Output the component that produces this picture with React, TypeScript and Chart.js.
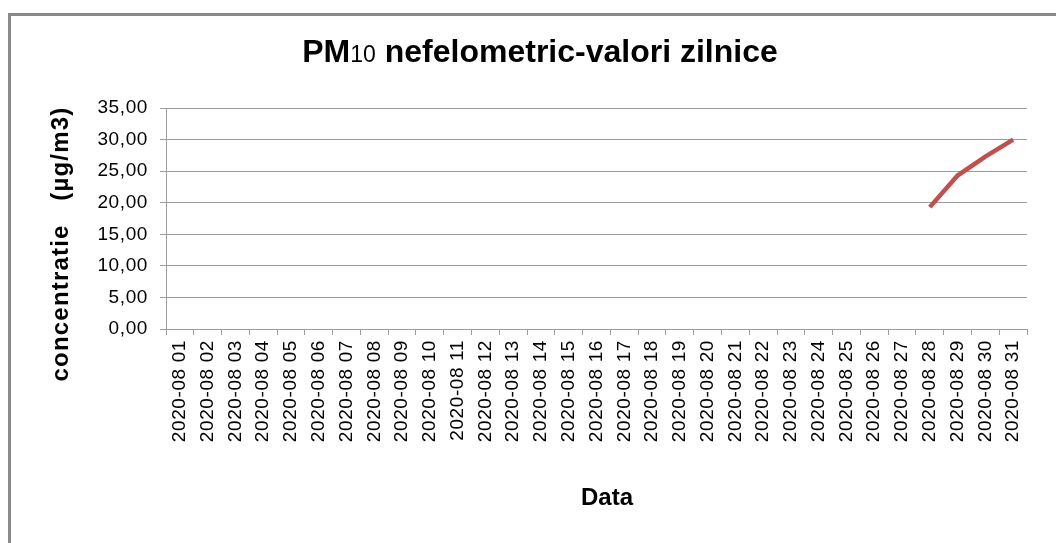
import React, { useEffect, useRef } from "react";
import { Chart, registerables } from "chart.js";

Chart.register(...registerables);

const chartTitleMain = "PM";
const chartTitleSub = "10";
const chartTitleRest = " nefelometric-valori zilnice";
const yAxisTitle = "concentratie   (µg/m3)";
const xAxisTitle = "Data";

const categories: string[] = [
  "2020-08 01", "2020-08 02", "2020-08 03", "2020-08 04", "2020-08 05",
  "2020-08 06", "2020-08 07", "2020-08 08", "2020-08 09", "2020-08 10",
  "2020-08 11", "2020-08 12", "2020-08 13", "2020-08 14", "2020-08 15",
  "2020-08 16", "2020-08 17", "2020-08 18", "2020-08 19", "2020-08 20",
  "2020-08 21", "2020-08 22", "2020-08 23", "2020-08 24", "2020-08 25",
  "2020-08 26", "2020-08 27", "2020-08 28", "2020-08 29", "2020-08 30",
  "2020-08 31",
];

const pm10Values: (number | null)[] = [
  null, null, null, null, null, null, null, null, null, null,
  null, null, null, null, null, null, null, null, null, null,
  null, null, null, null, null, null, null, 19.3, 24.3, 27.3,
  30.0,
];

const yMin = 0;
const yMax = 35;
const yStep = 5;

const FONT = "'Liberation Sans', Arial, sans-serif";

const spacingPlugin = {
  id: "tickSpacing",
  beforeUpdate(chart: any) {
    chart.ctx.letterSpacing = "0.6px";
  },
  beforeDraw(chart: any) {
    chart.ctx.letterSpacing = "0.6px";
  },
};

export default function App() {
  const canvasRef = useRef<HTMLCanvasElement | null>(null);

  useEffect(() => {
    const canvas = canvasRef.current;
    if (!canvas) return;
    const chart = new Chart(canvas, {
      type: "line",
      data: {
        labels: categories,
        datasets: [
          {
            label: "PM10",
            data: pm10Values,
            borderColor: "#c0504d",
            backgroundColor: "#c0504d",
            borderWidth: 4.5,
            pointRadius: 0,
            tension: 0,
            spanGaps: false,
          },
        ],
      },
      plugins: [spacingPlugin],
      options: {
        responsive: false,
        animation: false,
        layout: { padding: { top: 108, right: 29, left: 0, bottom: 84 } },
        plugins: {
          legend: { display: false },
          title: { display: false },
          tooltip: { enabled: false },
        },
        scales: {
          x: {
            type: "category",
            offset: true,
            afterFit: (scale: any) => {
              scale.height = 130;
            },
            grid: {
              display: true,
              drawOnChartArea: false,
              drawTicks: true,
              tickLength: 6,
              offset: true,
              color: "#9c9c9c",
            },
            border: { display: true, color: "#9c9c9c", width: 1 },
            ticks: {
              autoSkip: false,
              minRotation: 90,
              maxRotation: 90,
              padding: 5,
              color: "#000",
              font: { family: FONT, size: 19 },
            },
          },
          y: {
            min: yMin,
            max: yMax,
            afterFit: (scale: any) => {
              scale.width = 166;
            },
            grid: {
              color: "#9c9c9c",
              drawTicks: true,
              tickLength: 6,
            },
            border: { display: true, color: "#9c9c9c", width: 1 },
            ticks: {
              stepSize: yStep,
              padding: 12,
              color: "#000",
              font: { family: FONT, size: 19 },
              callback: (v: any) => Number(v).toFixed(2).replace(".", ","),
            },
          },
        },
      },
    });
    return () => chart.destroy();
  }, []);

  return (
    <div
      style={{
        position: "fixed",
        left: 0,
        top: 0,
        width: 1056,
        height: 543,
        overflow: "hidden",
        background: "#fff",
      }}
    >
      <div
        style={{
          position: "absolute",
          left: 8,
          top: 13,
          width: 1200,
          height: 700,
          border: "3px solid #8a8a8a",
          boxSizing: "border-box",
        }}
      />
      <canvas
        ref={canvasRef}
        width={1056}
        height={543}
        style={{ position: "absolute", left: 0, top: 0, width: 1056, height: 543 }}
      />
      <div
        style={{
          position: "absolute",
          left: 0,
          width: 1080,
          top: 33,
          textAlign: "center",
          fontFamily: FONT,
          fontWeight: "bold",
          fontSize: 32,
          lineHeight: "37px",
          color: "#000",
          whiteSpace: "pre",
        }}
      >
        {chartTitleMain}
        <span style={{ fontWeight: "normal", fontSize: 23 }}>{chartTitleSub}</span>
        {chartTitleRest}
      </div>
      <div
        style={{
          position: "absolute",
          left: 60 - 200,
          top: 244 - 15,
          width: 400,
          height: 30,
          lineHeight: "30px",
          textAlign: "center",
          transform: "rotate(-90deg)",
          fontFamily: FONT,
          fontWeight: "bold",
          fontSize: 24,
          letterSpacing: 1.2,
          whiteSpace: "pre",
          color: "#000",
        }}
      >
        {yAxisTitle}
      </div>
      <div
        style={{
          position: "absolute",
          left: 607 - 100,
          top: 482,
          width: 200,
          lineHeight: "30px",
          textAlign: "center",
          fontFamily: FONT,
          fontWeight: "bold",
          fontSize: 24,
          color: "#000",
        }}
      >
        {xAxisTitle}
      </div>
    </div>
  );
}
